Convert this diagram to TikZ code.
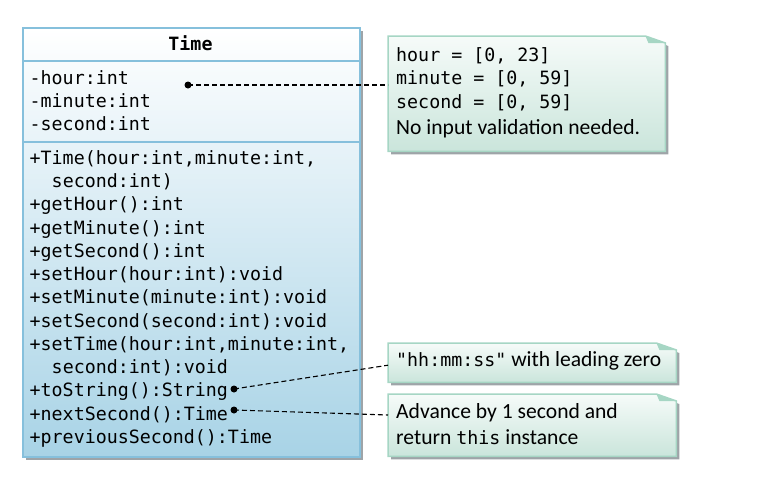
\documentclass[tikz,border=0pt]{standalone}
\usepackage{fontspec}
\setmainfont{Carlito}
\setmonofont{DejaVu Sans Mono}
\usetikzlibrary{calc,shadows}

\definecolor{classline}{RGB}{134,192,220}
\definecolor{classbottom}{RGB}{168,211,230}
\definecolor{noteline}{RGB}{166,214,196}
\definecolor{notetop}{RGB}{246,251,249}
\definecolor{notebottom}{RGB}{202,229,219}
\definecolor{shadowgray}{RGB}{158,164,168}

% fonts: code in a monospace face, prose in Carlito
\newcommand\membertextfont{\ttfamily\fontsize{18.3}{23.25}\selectfont}
\newcommand\noteprosefont{\rmfamily\fontsize{21.6}{23.6}\selectfont}
\newcommand\code[1]{{\ttfamily\fontsize{18.3}{23.6}\selectfont #1}}

% multi-line labels are placed by the baseline of their last line
\tikzset{
  x=1pt, y=-1pt,
  softshadow/.style={drop shadow={shadow xshift=3pt, shadow yshift=-3pt,
      fill=shadowgray, opacity=1}},
  classbox/.style={draw=classline, line width=1.5pt, top color=white,
      bottom color=classbottom, inner sep=0pt, anchor=north west, softshadow},
  separator/.style={draw=classline, line width=1.5pt},
  membertext/.style={inner sep=0pt, anchor=base west, align=left,
      font=\membertextfont},
  notearea/.style={inner sep=0pt, anchor=north west},
  notebody/.style={draw=noteline, line width=1.5pt, top color=notetop,
      bottom color=notebottom, softshadow},
  notelabel/.style={inner sep=0pt, anchor=base west, align=left,
      font=\noteprosefont},
  anchordot/.style={circle, fill=black, inner sep=0pt, minimum size=7pt},
  commentlink/.style={draw=black, line width=1.1pt, dash pattern=on 5pt off 3pt},
}

% UML note with a folded top-right corner: name, x, y, width, height
\newcommand\umlnote[5]{%
  \node[notearea, minimum width=#4pt, minimum height=#5pt] (#1) at (#2,#3) {};
  \shade[notebody] (#1.north west) -- ($(#1.north east)+(-20,0)$)
    -- ($(#1.north east)+(0,7)$) -- (#1.south east) -- (#1.south west) -- cycle;
  \fill[noteline] ($(#1.north east)+(-20,0)$) -- ($(#1.north east)+(-17,7)$)
    -- ($(#1.north east)+(0,7)$) -- cycle;
}

\begin{document}
\begin{tikzpicture}
\useasboundingbox (0,0) rectangle (780,480);

% the Time class
\node[classbox, minimum width=337pt, minimum height=429pt] (timeclass) at (22,27) {};
\coordinate (sepA) at (0,61);
\coordinate (sepB) at (0,142);
\draw[separator] (timeclass.west |- sepA) -- (timeclass.east |- sepA);
\draw[separator] (timeclass.west |- sepB) -- (timeclass.east |- sepB);

\node[font=\membertextfont\bfseries, inner sep=0pt, anchor=base] (title) at (190.5,50) {Time};

\node[membertext] (attrs) at (29.5,130.5) {-hour:int\\-minute:int\\-second:int};

\node[membertext] (ops) at (29.5,443.3) {%
  +Time(hour:int,minute:int,\\
  \phantom{++}second:int)\\
  +getHour():int\\
  +getMinute():int\\
  +getSecond():int\\
  +setHour(hour:int):void\\
  +setMinute(minute:int):void\\
  +setSecond(second:int):void\\
  +setTime(hour:int,minute:int,\\
  \phantom{++}second:int):void\\
  +toString():String\\
  +nextSecond():Time\\
  +previousSecond():Time};

% notes
\umlnote{rangenote}{388}{36}{277}{115}
\umlnote{formatnote}{388}{343}{288}{39}
\umlnote{advancenote}{388}{394}{288}{62}

\node[notelabel] (rangetext) at (396,134) {%
  \code{hour = [0, 23]}\\
  \code{minute = [0, 59]}\\
  \code{second = [0, 59]}\\[2pt]
  No input validation needed.};

\node[notelabel] (formattext) at (396,366.7) {\code{"hh:mm:ss"} with leading zero};

\node[notelabel, font=\rmfamily\fontsize{21.6}{26}\selectfont] (advancetext) at (396,444.5)
  {Advance by 1 second and\\return \code{this} instance};

% attachment points and dashed links
\node[anchordot] (attrdot) at (188,85) {};
\node[anchordot] (tostringdot) at (234,389) {};
\node[anchordot] (nextdot) at (234,410) {};

\coordinate (formatend) at ($(formatnote.west)+(0,2.5)$);
\coordinate (advanceend) at ($(advancenote.north west)+(0,21)$);

\draw[commentlink] (attrdot.center) -- (attrdot.center -| rangenote.west);
\draw[commentlink] (tostringdot.center) -- (formatend);
\draw[commentlink] (nextdot.center) -- (advanceend);

\end{tikzpicture}
\end{document}
